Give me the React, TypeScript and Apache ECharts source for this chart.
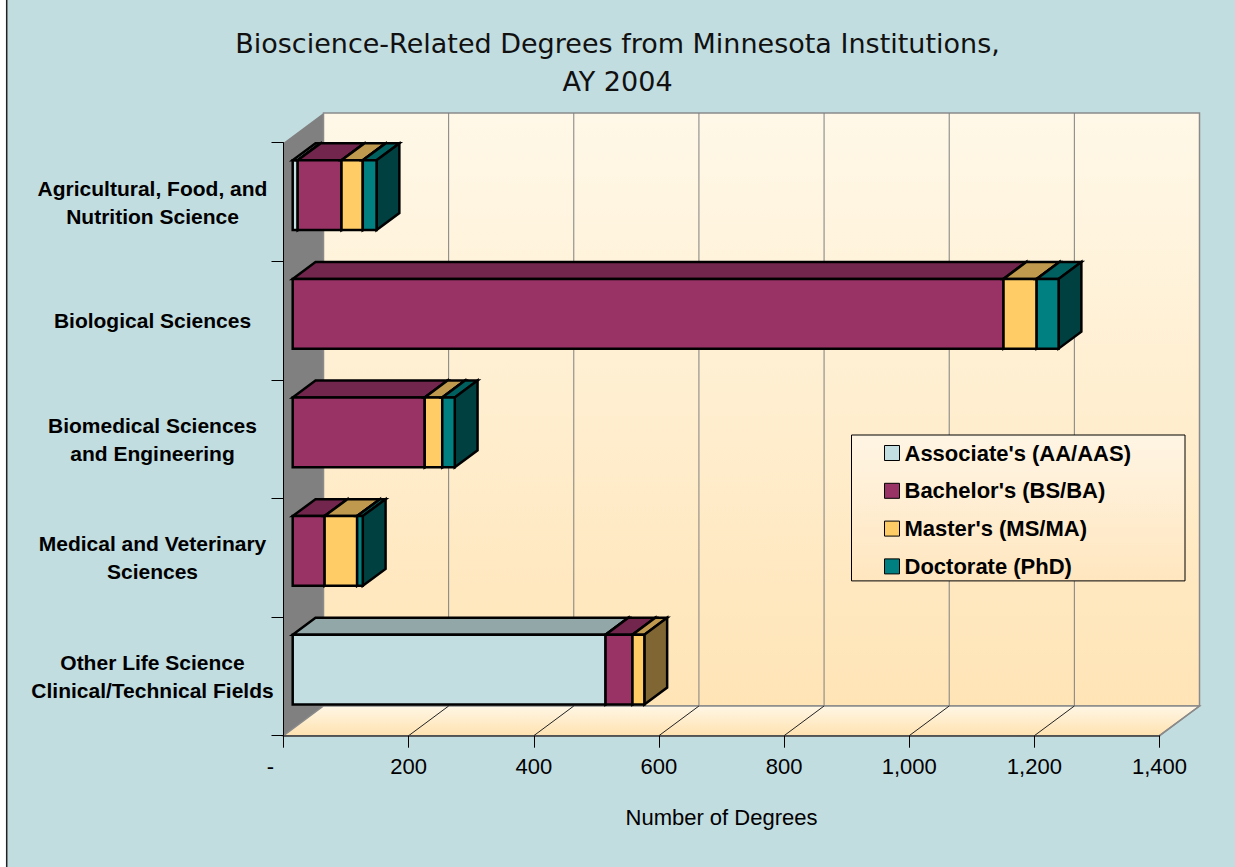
import React, { useEffect, useRef } from 'react';
import * as echarts from 'echarts';

const categories = [
  'Agricultural, Food, and\nNutrition Science',
  'Biological Sciences',
  'Biomedical Sciences\nand Engineering',
  'Medical and Veterinary\nSciences',
  'Other Life Science\nClinical/Technical Fields',
];
const seriesNames = ["Associate's (AA/AAS)", "Bachelor's (BS/BA)", "Master's (MS/MA)", 'Doctorate (PhD)'];
const associate = [8, 0, 0, 0, 500];
const bachelor = [70, 1136, 211, 51, 43];
const master = [34, 53, 28, 52, 19];
const doctorate = [22, 35, 20, 9, 0];
const xTicks = [0, 200, 400, 600, 800, 1000, 1200, 1400];
const seriesColors = ['#C2DEE0', '#993366', '#FFCC66', '#008080'];

const DEPTH = [40, -29.7];
const BAR_FRONT = 0.23;
const BAR_BACK = 0.8;
const BAR_H = 0.588;
const FONT = "'Liberation Sans', Arial, sans-serif";

function shade(hex: string, f: number): string {
  const n = parseInt(hex.slice(1), 16);
  const r = Math.round(((n >> 16) & 255) * f);
  const g = Math.round(((n >> 8) & 255) * f);
  const b = Math.round((n & 255) * f);
  return 'rgb(' + r + ',' + g + ',' + b + ')';
}

export default function App() {
  const ref = useRef<HTMLDivElement>(null);
  useEffect(() => {
    const chart = echarts.init(ref.current as HTMLDivElement, null, { renderer: 'svg' });
    const values = [associate, bachelor, master, doctorate];
    const starts = categories.map(() => 0);
    const barSeries = values.map((vals, k) => {
      const data = vals.map((v, i) => {
        const s = starts[i];
        starts[i] += v;
        return [s, s + v, i];
      });
      return {
        type: 'custom',
        name: seriesNames[k],
        coordinateSystem: 'cartesian2d',
        clip: false,
        z: 3,
        encode: { x: [0, 1], y: 2 },
        itemStyle: { color: seriesColors[k] },
        data,
        renderItem: (params: any, api: any) => {
          const s = api.value(0);
          const e = api.value(1);
          const c = api.value(2);
          if (e - s <= 0) return null;
          const a = api.coord([s, c]);
          const b = api.coord([e, c]);
          const bandH = api.size([0, 1])[1];
          const fx = DEPTH[0] * BAR_FRONT;
          const fy = DEPTH[1] * BAR_FRONT;
          const bx = DEPTH[0] * (BAR_BACK - BAR_FRONT);
          const by = DEPTH[1] * (BAR_BACK - BAR_FRONT);
          const x0 = a[0] + fx;
          const x1 = b[0] + fx;
          const yc = a[1] + fy;
          const h = bandH * BAR_H;
          const yt = yc - h / 2;
          const yb = yc + h / 2;
          const col = seriesColors[k];
          const ln = { stroke: '#000', lineWidth: 2.5, lineJoin: 'miter' };
          return {
            type: 'group',
            children: [
              {
                type: 'polygon',
                shape: { points: [[x0, yt], [x1, yt], [x1 + bx, yt + by], [x0 + bx, yt + by]] },
                style: { fill: shade(col, 0.75), ...ln },
              },
              {
                type: 'polygon',
                shape: { points: [[x1, yt], [x1 + bx, yt + by], [x1 + bx, yb + by], [x1, yb]] },
                style: { fill: shade(col, 0.5), ...ln },
              },
              {
                type: 'rect',
                shape: { x: x0, y: yt, width: x1 - x0, height: yb - yt },
                style: { fill: col, ...ln },
              },
            ],
          };
        },
      };
    });

    const frameSeries = {
      type: 'custom',
      coordinateSystem: 'cartesian2d',
      clip: false,
      silent: true,
      z: 1,
      encode: { x: 0, y: 1 },
      data: [[0, 0]],
      renderItem: (params: any, api: any) => {
        const cs = params.coordSys;
        const x = cs.x, y = cs.y, w = cs.width, h = cs.height;
        const dx = DEPTH[0], dy = DEPTH[1];
        const last = xTicks[xTicks.length - 1];
        const children: any[] = [
          {
            type: 'polygon',
            shape: { points: [[x, y], [x + dx, y + dy], [x + dx, y + h + dy], [x, y + h]] },
            style: { fill: '#808080' },
          },
          {
            type: 'rect',
            shape: { x: x + dx, y: y + dy, width: w, height: h },
            style: {
              fill: {
                type: 'linear', x: 0, y: 0, x2: 0, y2: 1,
                colorStops: [
                  { offset: 0, color: '#FFF8E8' },
                  { offset: 1, color: '#FFE4B6' },
                ],
              },
              stroke: '#8a8a8a',
              lineWidth: 1.5,
            },
          },
          {
            type: 'polygon',
            shape: { points: [[x, y + h], [x + w, y + h], [x + w + dx, y + h + dy], [x + dx, y + h + dy]] },
            style: {
              fill: {
                type: 'linear', x: 0, y: 0, x2: 0, y2: 1,
                colorStops: [
                  { offset: 0, color: '#FFF7E6' },
                  { offset: 1, color: '#FFE2B0' },
                ],
              },
              stroke: '#8a8a8a',
              lineWidth: 1.5,
            },
          },
        ];
        xTicks.forEach((t) => {
          const px = api.coord([t, 0])[0];
          if (t > 0 && t < last) {
            children.push({
              type: 'line',
              shape: { x1: px + dx, y1: y + dy, x2: px + dx, y2: y + h + dy },
              style: { stroke: '#7f7f7f', lineWidth: 1 },
            });
          }
          if (t > 0) {
            children.push({
              type: 'line',
              shape: { x1: px, y1: y + h, x2: px + dx, y2: y + h + dy },
              style: { stroke: t === last ? '#8a8a8a' : '#222', lineWidth: t === last ? 1.5 : 1 },
            });
          }
        });
        return { type: 'group', children };
      },
    };

    const option: any = {
      animation: false,
      backgroundColor: '#C2DDE0',
      title: {
        text: 'Bioscience-Related Degrees from Minnesota Institutions,\nAY 2004',
        left: 'center',
        top: 19,
        textStyle: {
          fontFamily: "'DejaVu Sans', Verdana, sans-serif",
          fontSize: 27,
          fontWeight: 'normal',
          lineHeight: 38,
          color: '#111',
        },
      },
      legend: {
        data: seriesNames,
        orient: 'vertical',
        left: 851.5,
        top: 435,
        icon: 'rect',
        itemWidth: 15,
        itemHeight: 15,
        itemGap: 15.8,
        padding: [7, 54, 3.5, 32.5],
        borderColor: '#000',
        borderWidth: 1,
        backgroundColor: new echarts.graphic.LinearGradient(0, 0, 0, 1, [
          { offset: 0, color: '#FFF5E4' },
          { offset: 1, color: '#FFE6BF' },
        ]),
        itemStyle: { borderColor: '#000', borderWidth: 1 },
        textStyle: { fontFamily: FONT, fontWeight: 'bold', fontSize: 22, color: '#000' },
        selectedMode: false,
        z: 10,
      },
      grid: { left: 283.5, right: 75.5, top: 142.7, bottom: 131.3, containLabel: false },
      xAxis: {
        type: 'value',
        min: 0,
        max: 1400,
        interval: 200,
        z: 5,
        axisLine: { show: true, lineStyle: { color: '#404040', width: 1.5 } },
        axisTick: { show: true, length: 12, lineStyle: { color: '#000', width: 1 } },
        splitLine: { show: false },
        axisLabel: {
          margin: 20,
          fontFamily: FONT,
          fontSize: 22,
          color: '#000',
          formatter: (v: number) => (v === 0 ? '{d|-}' : v.toLocaleString('en-US')),
          rich: { d: { padding: [0, 26, 0, 0], fontFamily: FONT, fontSize: 22, color: '#000' } },
        },
        name: 'Number of Degrees',
        nameLocation: 'middle',
        nameGap: 71,
        nameTextStyle: { fontFamily: FONT, fontSize: 22, color: '#000' },
      },
      yAxis: {
        type: 'category',
        data: categories,
        inverse: true,
        z: 5,
        axisLine: { show: true, lineStyle: { color: '#000', width: 1 } },
        axisTick: { show: true, length: 12, lineStyle: { color: '#000', width: 1 } },
        splitLine: { show: false },
        axisLabel: {
          interval: 0,
          margin: 131,
          align: 'center',
          fontFamily: FONT,
          fontWeight: 'bold',
          fontSize: 21,
          lineHeight: 28,
          color: '#000',
        },
      },
      graphic: [
        { type: 'rect', shape: { x: 0, y: 0, width: 6, height: 867 }, style: { fill: '#fff' }, silent: true },
        { type: 'line', shape: { x1: 6.7, y1: 0, x2: 6.7, y2: 867 }, style: { stroke: '#222', lineWidth: 1.5 }, silent: true },
      ],
      series: [frameSeries, ...barSeries],
    };
    chart.setOption(option);
    return () => chart.dispose();
  }, []);
  return <div ref={ref} style={{ position: 'fixed', left: 0, top: 0, width: 1235, height: 867 }} />;
}
